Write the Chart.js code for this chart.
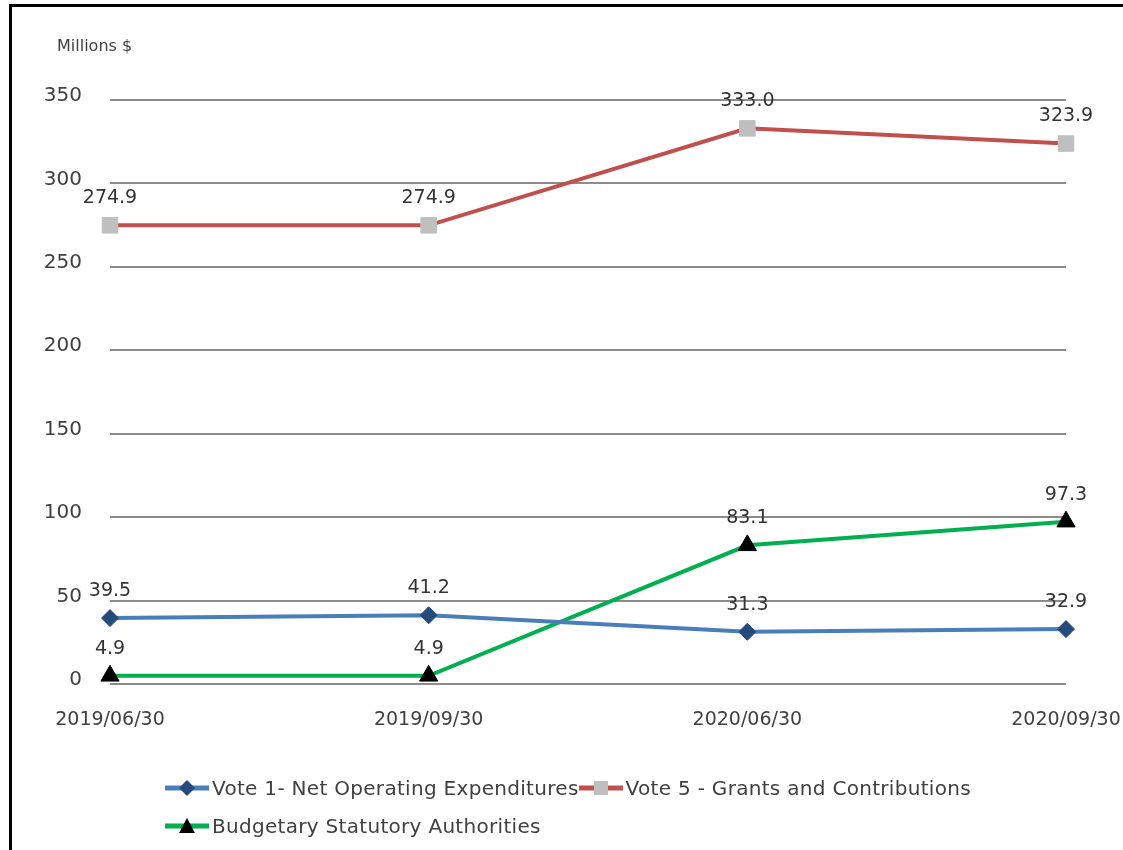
<!DOCTYPE html>
<html>
<head>
<meta charset="utf-8">
<script src="https://cdn.jsdelivr.net/npm/chart.js@4.4.0/dist/chart.umd.min.js"></script>
<style>
  html, body { margin: 0; padding: 0; background: #fff; overflow: hidden; }
  body { width: 1123px; height: 850px; position: relative; font-family: "DejaVu Sans", sans-serif; }
  #frame { position: absolute; left: 9px; top: 4px; width: 1200px; height: 1000px; border: 3px solid #000; }
  #wrap { position: absolute; left: 0; top: 0; width: 1123px; height: 850px; }
  #legend { position: absolute; left: 165px; top: 773px; width: 840px; color: #404040; font-size: 20px; letter-spacing: 0.3px; }
  .item { display: inline-flex; align-items: center; height: 30px; margin-bottom: 8px; white-space: nowrap; }
  .item canvas { margin-right: 3px; }
</style>
</head>
<body>
<div id="frame"></div>
<div id="wrap"><canvas id="usageChart" width="1123" height="850"></canvas></div>
<div id="legend"></div>
<script>
// --- Data ---
const categories = ['2019/06/30', '2019/09/30', '2020/06/30', '2020/09/30'];
const vote1Values = [39.5, 41.2, 31.3, 32.9];
const vote5Values = [274.9, 274.9, 333.0, 323.9];
const statutoryValues = [4.9, 4.9, 83.1, 97.3];
const yTicks = [0, 50, 100, 150, 200, 250, 300, 350];

const seriesNames = [
    'Vote 1- Net Operating Expenditures',
    'Vote 5 - Grants and Contributions',
    'Budgetary Statutory Authorities'
];

const textColor = '#404040';
const fontFamily = '"DejaVu Sans", sans-serif';

// --- Plugin: value labels + unit caption ---
const valueLabels = {
    id: 'valueLabels',
    afterDatasetsDraw(chart) {
        const ctx = chart.ctx;
        ctx.save();
        ctx.fillStyle = '#333';
        ctx.font = '19px ' + fontFamily;
        ctx.textAlign = 'center';
        ctx.textBaseline = 'middle';
        chart.data.datasets.forEach((ds, i) => {
            const meta = chart.getDatasetMeta(i);
            meta.data.forEach((pt, j) => {
                ctx.fillText(ds.data[j].toFixed(1), pt.x, pt.y - 27);
            });
        });
        // unit caption top left
        ctx.fillStyle = textColor;
        ctx.font = '16px ' + fontFamily;
        ctx.textAlign = 'left';
        ctx.fillText('Millions $', 57, 47);
        ctx.restore();
    }
};

// --- Chart ---
const ctx = document.getElementById('usageChart').getContext('2d');
const usageChart = new Chart(ctx, {
    type: 'line',
    data: {
        labels: categories,
        datasets: [
            {
                label: seriesNames[0],
                data: vote1Values,
                borderColor: '#4A7EBB',
                borderWidth: 4,
                pointStyle: 'rectRot',
                pointRadius: 8.5,
                pointBackgroundColor: '#254A7C',
                pointBorderColor: '#254A7C',
                pointBorderWidth: 1,
                tension: 0
            },
            {
                label: seriesNames[1],
                data: vote5Values,
                borderColor: '#C0504D',
                borderWidth: 4,
                pointStyle: 'rect',
                pointRadius: 11,
                pointBackgroundColor: '#BFBFBF',
                pointBorderColor: '#BFBFBF',
                pointBorderWidth: 1,
                tension: 0
            },
            {
                label: seriesNames[2],
                data: statutoryValues,
                borderColor: '#00B050',
                borderWidth: 4,
                pointStyle: 'triangle',
                pointRadius: 10.5,
                pointBackgroundColor: '#000',
                pointBorderColor: '#000',
                pointBorderWidth: 1,
                tension: 0
            }
        ]
    },
    options: {
        responsive: false,
        animation: false,
        layout: { padding: { top: 100, right: 57, bottom: 106, left: 0 } },
        plugins: {
            legend: { display: false },
            tooltip: { enabled: false }
        },
        scales: {
            x: {
                offset: false,
                grid: { display: false },
                border: { display: false },
                ticks: { color: textColor, font: { family: fontFamily, size: 19 }, padding: 17, maxRotation: 0, autoSkip: false },
                afterFit(scale) {
                    scale.height = 60;
                    scale.paddingLeft = 0;
                    scale.paddingRight = 0;
                }
            },
            y: {
                min: 0,
                max: 350,
                afterBuildTicks(scale) { scale.ticks = yTicks.map(v => ({ value: v })); },
                grid: { color: '#8C8C8C', lineWidth: 2, drawTicks: false },
                border: { display: false },
                ticks: { color: textColor, font: { family: fontFamily, size: 20 }, padding: 28, labelOffset: -4 },
                afterFit(scale) { scale.width = 110; }
            }
        }
    },
    plugins: [valueLabels]
});

// --- Legend (HTML) ---
function buildLegend() {
    const box = document.getElementById('legend');
    usageChart.data.datasets.forEach(ds => {
        const item = document.createElement('div');
        item.className = 'item';
        const c = document.createElement('canvas');
        c.width = 44; c.height = 20;
        const g = c.getContext('2d');
        g.strokeStyle = ds.borderColor;
        g.lineWidth = 5;
        g.beginPath(); g.moveTo(0, 10); g.lineTo(44, 10); g.stroke();
        g.fillStyle = ds.pointBackgroundColor;
        g.beginPath();
        if (ds.pointStyle === 'rectRot') {
            g.moveTo(22, 2); g.lineTo(30, 10); g.lineTo(22, 18); g.lineTo(14, 10);
        } else if (ds.pointStyle === 'rect') {
            g.rect(15, 3, 14, 14);
        } else {
            g.moveTo(22, 2); g.lineTo(30, 17); g.lineTo(14, 17);
        }
        g.closePath(); g.fill();
        const span = document.createElement('span');
        span.textContent = ds.label;
        item.appendChild(c);
        item.appendChild(span);
        box.appendChild(item);
    });
}

buildLegend();
</script>
</body>
</html>
